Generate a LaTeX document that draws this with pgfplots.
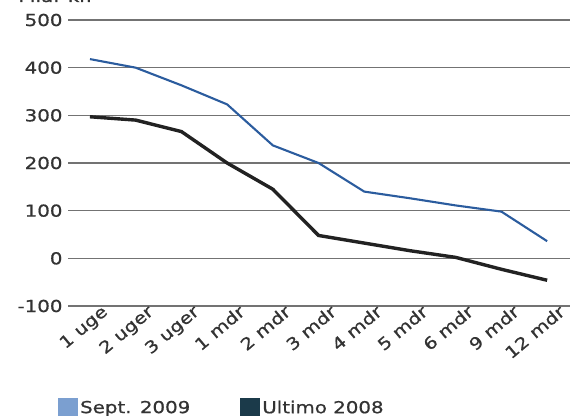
\documentclass[border=0pt]{standalone}
\usepackage{fontspec}
\setmainfont{DejaVu Sans}[FakeStretch=1.2, FakeBold=0.8]
\usepackage{pgfplots}
\pgfplotsset{compat=1.18}
\definecolor{bluel}{HTML}{2B5C9E}
\definecolor{blackl}{HTML}{222222}
\definecolor{legblue}{HTML}{7B9FD0}
\definecolor{legdark}{HTML}{1B3A4A}
\definecolor{txt}{HTML}{333333}
\begin{document}
\begin{tikzpicture}
\useasboundingbox (0,0) rectangle (574bp,416bp);
\begin{axis}[
  at={(68bp,110bp)}, anchor=south west,
  scale only axis, width=502bp, height=286bp,
  xmin=-0.48, xmax=10.5, ymin=-100, ymax=500,
  axis line style={draw=none}, tick style={draw=none},
  ymajorgrids, grid style={color=black!55, line width=1.1bp},
  ytick={-100,0,100,200,300,400,500},
  yticklabels={-100,0,100,200,300,400,500},
  xtick={0,...,10},
  xticklabels={1 uge,2 uger,3 uger,1 mdr,2 mdr,3 mdr,4 mdr,5 mdr,6 mdr,9 mdr,12 mdr},
  font=\fontsize{16.5bp}{19bp}\selectfont,
  every tick label/.append style={text=txt},
  yticklabel style={xshift=-2bp},
  xticklabel style={rotate=40, anchor=north east, xshift=13bp, yshift=-2bp},
  legend style={at={(-0.02,-0.32)}, anchor=north west, legend columns=2,
    draw=none, fill=none, text=txt, inner sep=0pt,
    /tikz/every even column/.append style={column sep=48bp}},
  legend image code/.code={\fill[#1, draw=none] (0bp,-9bp) rectangle (20bp,10bp);},
]
\addlegendimage{fill=legblue, draw=none}
\addlegendimage{fill=legdark, draw=none}
\addplot[color=bluel, line width=2.1bp, forget plot] coordinates {
  (0,418) (1,400) (2,363) (3,323) (4,237) (5,200) (6,140) (7,126) (8,111) (9,98) (10,36)
};
\addplot[color=blackl, line width=3.4bp, forget plot] coordinates {
  (0,297) (1,290) (2,266) (3,200) (4,145) (5,48) (6,32) (7,16) (8,2) (9,-23) (10,-46)
};
\legend{Sept. 2009, Ultimo 2008}
\end{axis}
\node[anchor=base west, text=txt, font=\fontsize{16.5bp}{19bp}\selectfont] at (15bp,414bp) {Mia. kr.};
\end{tikzpicture}
\end{document}
